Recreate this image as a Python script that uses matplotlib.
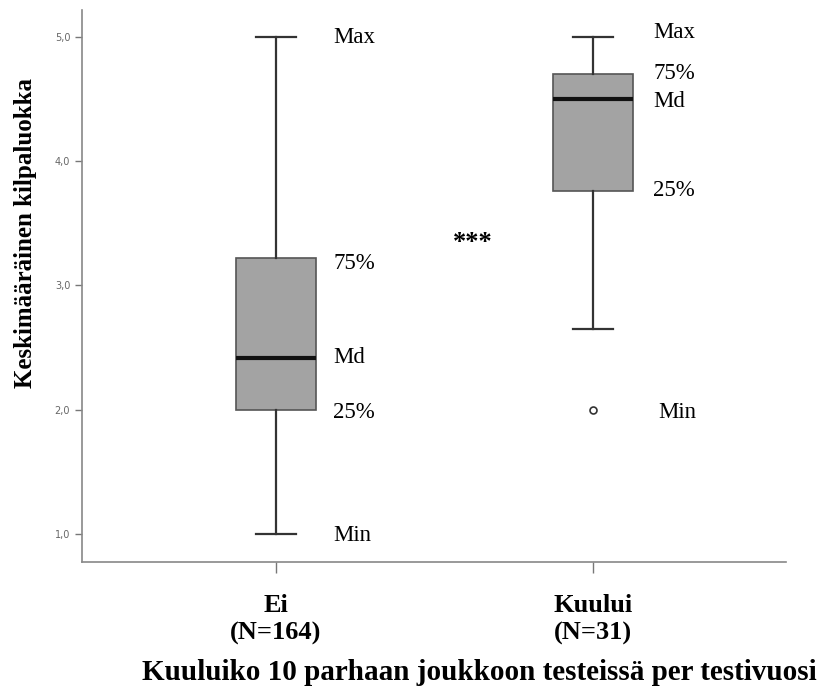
import matplotlib
matplotlib.use("Agg")
import matplotlib.pyplot as plt

# Data
categories = ["Ei\n(N=164)", "Kuului\n(N=31)"]
whisker_low = [1.0, 2.65]
q1 = [2.0, 3.76]
median = [2.42, 4.5]
q3 = [3.22, 4.70]
whisker_high = [5.0, 5.0]
outliers = [[], [2.0]]
yticks = [1.0, 2.0, 3.0, 4.0, 5.0]
ytick_labels = ["1,0", "2,0", "3,0", "4,0", "5,0"]
sig_text = "***"
sig_value = 3.37

serif = "Liberation Serif"

fig = plt.figure(figsize=(8.24, 6.89), dpi=100)
ax = fig.add_axes([82/824, 1-562/689, (786-82)/824, (562-10)/689])

stats = []
for i in range(len(categories)):
    stats.append(dict(med=median[i], q1=q1[i], q3=q3[i], whislo=whisker_low[i],
                      whishi=whisker_high[i], fliers=outliers[i]))
positions = [1, 2]
ax.bxp(stats, positions=positions, widths=0.252, patch_artist=True, showfliers=True,
       boxprops=dict(facecolor="#a3a3a3", edgecolor="#555555", linewidth=1.2),
       medianprops=dict(color="#111111", linewidth=3),
       whiskerprops=dict(color="#333333", linewidth=1.6),
       capprops=dict(color="#333333", linewidth=1.6),
       capwidths=0.126,
       flierprops=dict(marker="o", markersize=5, markerfacecolor="white",
                       markeredgecolor="#333333", markeredgewidth=1.2))

ax.set_xlim(0.388, 2.609)
ax.set_ylim(0.775, 5.216)
ax.set_yticks(yticks)
ax.set_yticklabels(ytick_labels, fontsize=7, color="#666666", fontfamily="DejaVu Sans")
ax.set_xticks(positions)
ax.set_xticklabels(categories, fontsize=19, fontweight="bold", fontfamily=serif,
                   linespacing=1.25)
ax.tick_params(axis="y", direction="out", length=5, color="#777777", width=1)
ax.tick_params(axis="x", direction="out", length=8, color="#777777", width=1, pad=15)
for s in ["top", "right"]:
    ax.spines[s].set_visible(False)
for s in ["left", "bottom"]:
    ax.spines[s].set_color("#888888")
    ax.spines[s].set_linewidth(1.2)

# Annotations next to each box (offsets in pixels, downward positive)
lab_fs = 16.5
def label(x, y, txt, down_px):
    ax.annotate(txt, (x, y), xytext=(0, -down_px * 0.72), textcoords="offset points",
                fontsize=lab_fs, fontfamily=serif, va="center", ha="left")

i = 0
xl = positions[i] + 0.18
label(xl, whisker_high[i], "Max", 1)
label(xl, q3[i], "75%", 5)
label(xl, median[i], "Md", 0)
label(xl, q1[i], "25%", 3)
label(xl, whisker_low[i], "Min", 1)
i = 1
xl = positions[i] + 0.19
label(xl, whisker_high[i], "Max", -4)
label(xl, q3[i], "75%", -1)
label(xl, median[i], "Md", 3)
label(xl, q1[i], "25%", 0)
label(xl + 0.015, outliers[i][0], "Min", 3)

ax.annotate(sig_text, (1.62, sig_value), xytext=(0, -3 * 0.72), textcoords="offset points",
            fontsize=19, fontweight="bold", fontfamily=serif, ha="center", va="center")

fig.text(26/824, 1-233/689, "Keskimääräinen kilpaluokka", rotation=90, fontsize=18,
         fontweight="bold", fontfamily=serif, ha="center", va="center")
fig.text(479/824, 1-680/689, "Kuuluiko 10 parhaan joukkoon testeissä per testivuosi",
         fontsize=21, fontweight="bold", fontfamily=serif, ha="center", va="baseline")

fig.savefig("out.png", dpi=100)
